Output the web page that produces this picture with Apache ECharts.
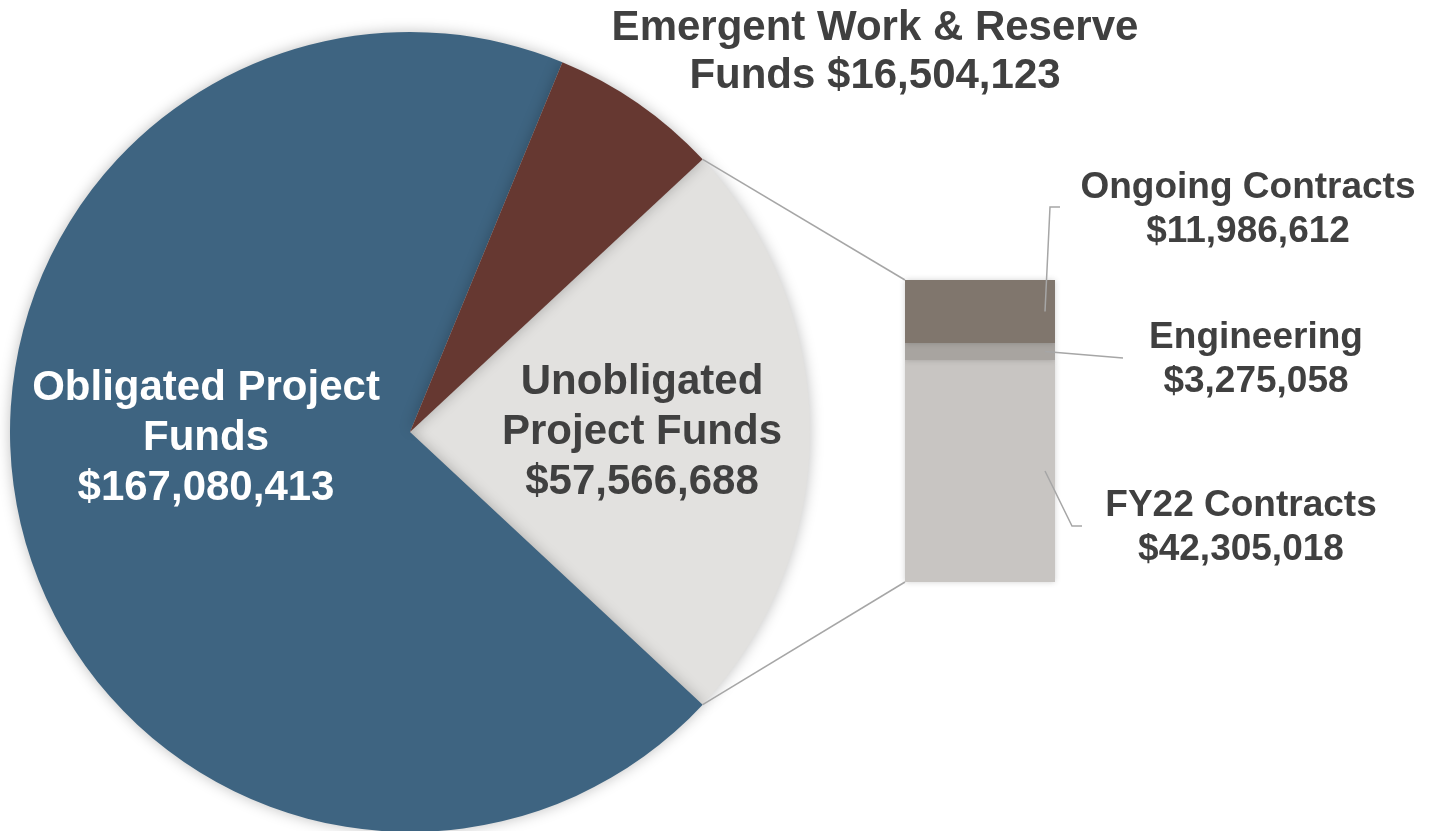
<!DOCTYPE html>
<html>
<head>
<meta charset="utf-8">
<script src="https://cdn.jsdelivr.net/npm/echarts@6/dist/echarts.min.js"></script>
<style>html,body{margin:0;padding:0;background:#fff;}#c{width:1437px;height:831px;}</style>
</head>
<body>
<div id="c"></div>
<script>
// Pie data
var pieNames = ['Unobligated\nProject Funds', 'Obligated Project\nFunds', 'Emergent Work & Reserve\nFunds'];
var pieValues = [57566688, 167080413, 16504123];
var pieColors = ['#E2E1DF', '#3E6481', '#663831'];
// Bar (breakdown of Unobligated) data, bottom to top
var barNames = ['FY22 Contracts', 'Engineering', 'Ongoing Contracts'];
var barValues = [42305018, 3275058, 11986612];
var barColors = ['#C8C5C2', '#A8A4A0', '#80766D'];

function fmt(v){ return '$' + v.toLocaleString('en-US'); }

var FONT = 'Arial, "Liberation Sans", sans-serif';
var TXT = '#404040';
var total = pieValues.reduce(function(a,b){return a+b;},0);
var barTotal = barValues.reduce(function(a,b){return a+b;},0);
var startAngle = 360 * pieValues[0] / total / 2;

var pieCenter = [410, 432], pieR = 400;
var pieLabelPos = [[642, 432], [206, 438], [875, 52]];
var barLabelPos = [[1241, 528], [1256, 360], [1248, 210]];

var chart = echarts.init(document.getElementById('c'));

var series = [{
  type: 'pie',
  center: pieCenter,
  radius: pieR,
  startAngle: startAngle,
  clockwise: true,
  silent: true,
  data: pieValues.map(function(v, i){
    return {
      name: pieNames[i], value: v,
      itemStyle: {color: pieColors[i]},
      label: {color: i === 1 ? '#FFFFFF' : TXT, lineHeight: i === 2 ? 48 : 50}
    };
  }),
  itemStyle: {shadowBlur: 14, shadowColor: 'rgba(0,0,0,0.25)', borderWidth: 0},
  label: {
    show: true, position: 'inside',
    formatter: function(p){
      return p.dataIndex === 2 ? 'Emergent Work & Reserve\nFunds ' + fmt(p.value) : p.name + '\n' + fmt(p.value);
    },
    fontFamily: FONT, fontWeight: 'bold', fontSize: 42, lineHeight: 50, align: 'center'
  },
  labelLine: {show: false},
  labelLayout: function(p){
    var i = p.dataIndex;
    return {x: pieLabelPos[i][0], y: pieLabelPos[i][1], align: 'center', verticalAlign: 'middle'};
  }
}];

barValues.forEach(function(v, i){
  series.push({
    type: 'bar', stack: 'u', name: barNames[i],
    data: [v], barWidth: '100%', silent: true,
    itemStyle: {color: barColors[i], shadowBlur: 6, shadowColor: 'rgba(0,0,0,0.18)'},
    label: {
      show: true, position: 'right',
      formatter: barNames[i] + '\n' + fmt(v),
      fontFamily: FONT, fontWeight: 'bold', fontSize: 37, lineHeight: 44, color: TXT, align: 'center'
    },
    labelLayout: {x: barLabelPos[i][0], y: barLabelPos[i][1], align: 'center', verticalAlign: 'middle'}
  });
});

var option = {
  backgroundColor: '#fff',
  animation: false,
  grid: {left: 905, top: 280, width: 150, height: 302},
  xAxis: {type: 'category', data: ['Unobligated'], show: false},
  yAxis: {type: 'value', min: 0, max: barTotal, show: false},
  series: series
};
chart.setOption(option);

// connector and leader lines computed from the chart's scales
function drawLines(){
  var halfA = Math.PI * pieValues[0] / total;
  var pTop = [pieCenter[0] + pieR * Math.cos(halfA), pieCenter[1] - pieR * Math.sin(halfA)];
  var pBot = [pieCenter[0] + pieR * Math.cos(halfA), pieCenter[1] + pieR * Math.sin(halfA)];
  var topPx = chart.convertToPixel({gridIndex: 0}, [0, barTotal]);
  var botPx = chart.convertToPixel({gridIndex: 0}, [0, 0]);
  var left = 905, right = 1055;
  var lineStyle = {stroke: '#A6A6A6', lineWidth: 1.5, fill: null};
  var g = [
    {type: 'polyline', shape: {points: [pTop, [left, topPx[1]]]}, style: lineStyle, z: 10},
    {type: 'polyline', shape: {points: [pBot, [left, botPx[1]]]}, style: lineStyle, z: 10}
  ];
  var cum = 0, mids = [];
  barValues.forEach(function(v){
    var m = chart.convertToPixel({gridIndex: 0}, [0, cum + v / 2]);
    mids.push(m[1]); cum += v;
  });
  var lead = [
    [[right - 10, mids[0]], [1072, 526], [1082, 526]],
    [[right - 10, mids[1]], [1123, 358]],
    [[right - 10, mids[2]], [1050, 207], [1060, 207]]
  ];
  lead.forEach(function(pts){
    g.push({type: 'polyline', shape: {points: pts}, style: lineStyle, z: 10});
  });
  chart.setOption({graphic: g});
}
drawLines();
</script>
</body>
</html>
